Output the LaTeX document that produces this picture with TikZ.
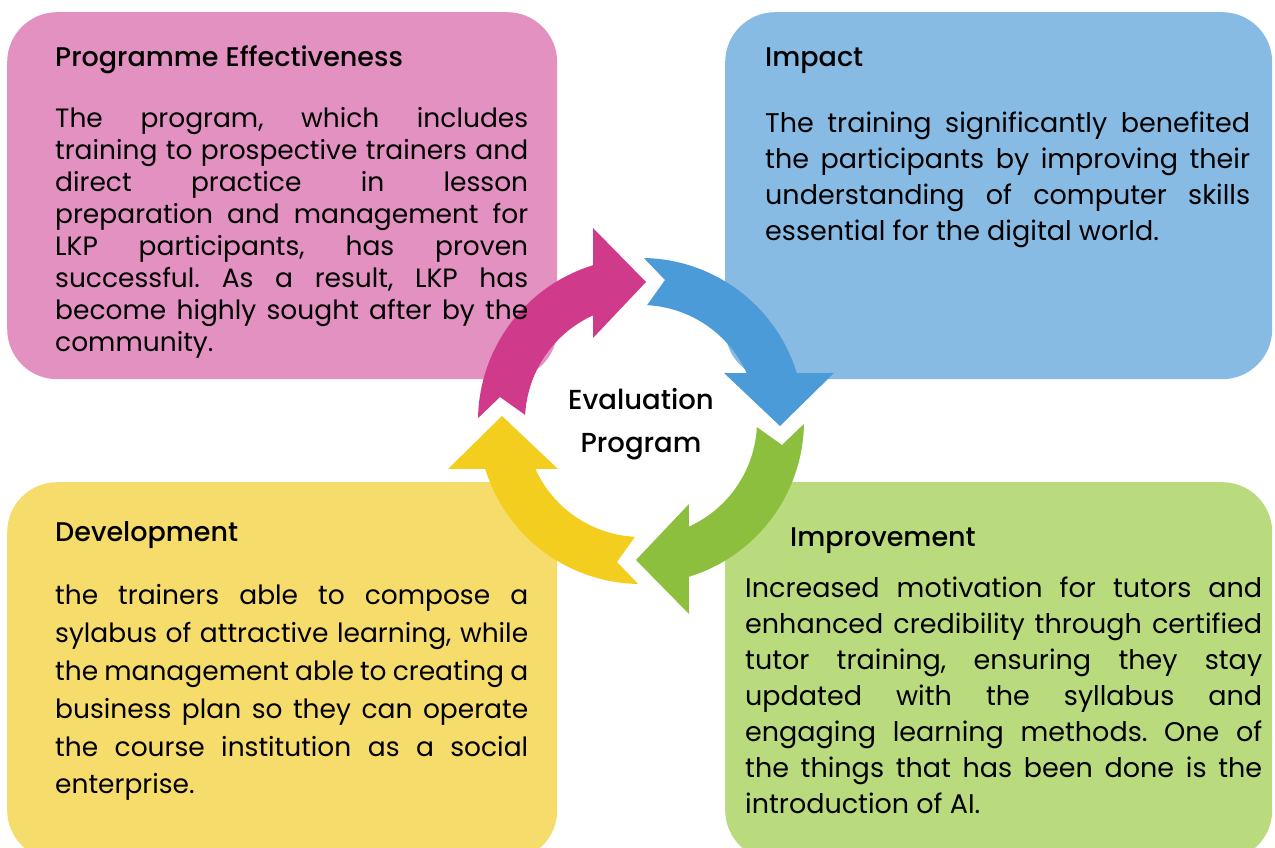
\documentclass[tikz,border=0pt]{standalone}
\usepackage{fontspec}
\setmainfont{Poppins}
\newfontfamily\titlefont{Poppins Medium}
\frenchspacing
\definecolor{pinkbox}{HTML}{E291C1}
\definecolor{bluebox}{HTML}{88BBE4}
\definecolor{yellowbox}{HTML}{F5DC6B}
\definecolor{greenbox}{HTML}{B9DB7E}
\definecolor{magarrow}{HTML}{CF3A8B}
\definecolor{bluearrow}{HTML}{4A9BD8}
\definecolor{greenarrow}{HTML}{8CBF3E}
\definecolor{yellowarrow}{HTML}{F3CE1E}
\newcommand\jl[1]{\makebox[\linewidth][s]{#1}}
\newcommand\cyclearrow[2]{%
  \fill[#2, shift={(641,427)}, rotate=#1]
    (179:163) arc[start angle=179, end angle=107.1, radius=163]
    -- (-48,193) -- (5,139) -- (-48,83)
    -- (114.4:116) arc[start angle=114.4, end angle=177, radius=116]
    -- (-141,24) -- cycle;}
\begin{document}
\begin{tikzpicture}[x=1pt,y=1pt,
  box/.style={rounded corners=50pt, inner sep=0, draw=none, anchor=north west},
  titletext/.style={anchor=base west, inner sep=0, font=\titlefont\fontsize{27}{32}\selectfont},
  bodytext/.style={anchor=base west, inner sep=0}]
\useasboundingbox (0,0) rectangle (1275,848);
\fill[white] (0,0) rectangle (1275,848);
% boxes
\node[box, fill=pinkbox, minimum width=550pt, minimum height=367pt] (pink) at (7,836) {};
\node[box, fill=bluebox, minimum width=547pt, minimum height=367pt] (blue) at (725,836) {};
\node[box, fill=yellowbox, minimum width=550pt, minimum height=378pt] (yellow) at (7,366) {};
\node[box, fill=greenbox, minimum width=547pt, minimum height=378pt] (green) at (725,366) {};
% arrows
\cyclearrow{0}{magarrow}
\cyclearrow{-90}{bluearrow}
\cyclearrow{-180}{greenarrow}
\cyclearrow{90}{yellowarrow}
% titles
\node[titletext] (pinktitle) at (55,781) {Programme Effectiveness};
\node[titletext] (bluetitle) at (765,781) {Impact};
\node[titletext] (yellowtitle) at (55,306) {Development};
\node[titletext] (greentitle) at (790,301) {Improvement};
% bodies
\node[bodytext] (pinkbody) at (55,720) {\begin{minipage}[t]{473pt}\fontsize{26.5}{32}\selectfont
\jl{The program, which includes}\\
\jl{training to prospective trainers and}\\
\jl{direct practice in lesson}\\
\jl{preparation and management for}\\
\jl{LKP participants, has proven}\\
\jl{successful. As a result, LKP has}\\
\jl{become highly sought after by the}\\
community.\end{minipage}};
\node[bodytext] (bluebody) at (765,715) {\begin{minipage}[t]{485pt}\fontsize{27}{35.7}\selectfont
\jl{The training significantly benefited}\\
\jl{the participants by improving their}\\
\jl{understanding of computer skills}\\
essential for the digital world.\end{minipage}};
\node[bodytext] (yellowbody) at (55,243) {\begin{minipage}[t]{473pt}\fontsize{26.5}{37.8}\selectfont
\jl{the trainers able to compose a}\\
\jl{sylabus of attractive learning, while}\\
\jl{the management able to creating a}\\
\jl{business plan so they can operate}\\
\jl{the course institution as a social}\\
enterprise.\end{minipage}};
\node[bodytext] (greenbody) at (745,250) {\begin{minipage}[t]{517pt}\fontsize{27}{36}\selectfont
\jl{Increased motivation for tutors and}\\
\jl{enhanced credibility through certified}\\
\jl{tutor training, ensuring they stay}\\
\jl{updated with the syllabus and}\\
\jl{engaging learning methods. One of}\\
\jl{the things that has been done is the}\\
introduction of AI.\end{minipage}};
% centre
\node[anchor=base, inner sep=0, font=\titlefont\fontsize{27.5}{32}\selectfont] (evaltop) at (641,438) {Evaluation};
\node[anchor=base, inner sep=0, font=\titlefont\fontsize{27.5}{32}\selectfont] (evalbot) at (641,395) {Program};
\end{tikzpicture}
\end{document}
